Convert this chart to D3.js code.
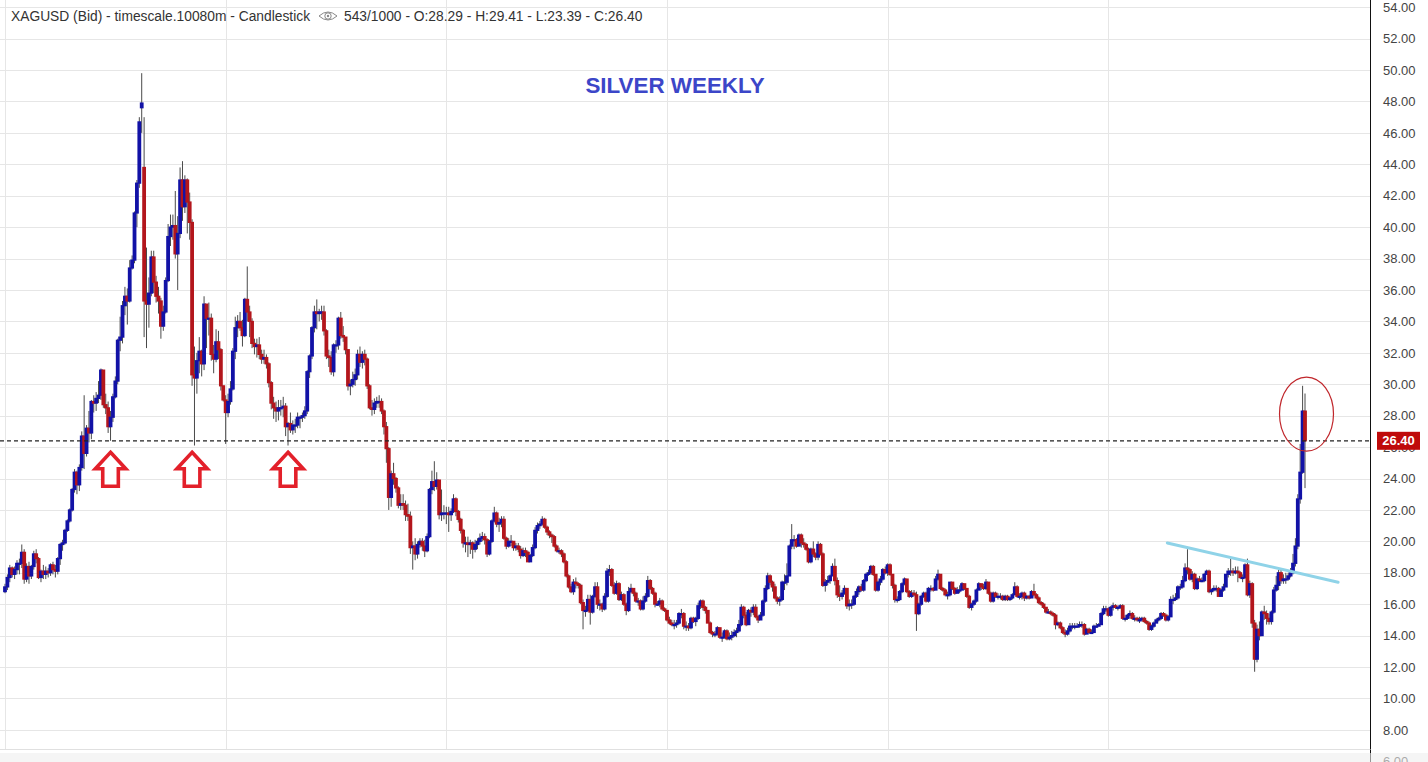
<!DOCTYPE html>
<html><head><meta charset="utf-8">
<script src="https://cdn.jsdelivr.net/npm/d3@7"></script>
<style>
html,body{margin:0;padding:0;background:#fff;overflow:hidden}
svg{display:block;font-family:Arial,"Liberation Sans",sans-serif}
</style></head><body>
<svg id="chart" width="1428" height="762"></svg>
<script>
// ---- weekly XAGUSD candles, Mar 2010 .. Aug 2020 (543 weeks), one line per year ----
const opens = [
16.8,17.1,17.7,18.3,17.9,18.2,18.6,18.6,19.3,17.6,18.4,17.8,18.4,19.2,18.9,17.7,18.1,17.9,18.1,18.0,18.5,18.2,18.1,18.9,19.8,19.9,20.7,21.3,22.0,23.3,24.4,23.6,24.7,26.7,25.6,27.2,26.9,28.9,28.8,29.1,29.3,
30.9,28.7,28.5,27.3,27.9,29.2,30.2,32.8,33.0,35.0,35.6,35.3,37.4,37.9,40.9,42.8,47.6,43.8,35.3,35.1,35.8,38.1,36.5,35.6,35.3,33.7,34.6,36.6,39.4,40.0,40.1,38.3,39.6,43.0,41.3,43.0,41.6,40.3,30.6,30.4,31.5,32.1,31.3,35.1,34.2,34.2,31.9,31.6,32.7,32.2,29.9,29.0,
28.2,28.9,29.7,32.1,33.6,34.0,33.6,33.1,35.4,34.6,34.0,32.6,32.4,32.5,31.9,31.6,31.7,31.3,30.1,28.8,28.5,28.3,28.5,28.5,28.6,27.3,27.5,27.1,27.4,27.4,27.9,27.9,28.0,28.3,30.8,31.8,33.6,34.6,34.5,34.6,34.6,33.4,31.8,31.7,30.8,32.5,32.5,34.2,33.1,33.0,32.2,29.9,
30.0,30.3,30.6,31.9,31.4,31.9,31.6,29.9,28.5,28.4,28.8,28.9,28.9,28.3,27.3,25.9,22.8,24.3,24.0,23.4,22.3,22.4,22.3,21.7,21.6,19.6,19.7,19.2,19.8,20.0,19.7,19.4,20.3,23.3,23.8,23.5,23.9,21.7,21.8,21.8,21.8,21.7,21.9,22.7,21.9,21.4,20.7,19.9,19.9,19.8,19.9,19.5,19.8,
20.0,20.2,20.3,20.1,19.2,20.0,21.3,21.8,21.1,21.2,21.4,20.2,19.7,20.0,20.0,19.6,19.7,19.5,19.1,19.4,19.3,18.7,19.1,19.6,20.7,21.0,21.1,21.4,20.9,20.6,20.4,20.3,19.7,19.4,19.4,19.2,18.7,17.8,17.1,16.8,17.4,17.3,17.2,16.1,15.6,15.6,16.3,15.5,16.5,17.1,16.0,16.0,
15.7,16.5,18.1,18.2,17.2,16.7,17.3,16.3,16.6,16.0,15.6,16.8,17.0,16.7,16.2,16.2,15.7,16.2,16.5,17.5,17.0,16.7,16.0,16.0,16.2,15.7,15.6,15.0,14.8,14.7,14.7,14.8,15.4,15.4,14.6,14.6,14.5,15.1,14.9,15.1,15.9,16.2,15.8,15.6,14.8,14.2,14.1,14.1,14.5,13.9,13.9,14.3,
13.8,13.9,14.0,14.2,14.3,14.7,15.8,15.3,14.7,15.6,15.5,15.8,15.2,15.0,15.3,16.2,17.0,17.8,17.4,17.1,16.4,16.2,16.3,17.4,17.4,17.8,19.7,20.1,20.1,19.7,20.4,19.9,19.8,19.5,18.7,19.5,19.2,19.0,19.8,19.2,17.2,17.4,17.5,17.8,18.4,17.5,16.6,16.5,16.7,17.0,15.9,16.0,
16.0,16.5,16.8,17.1,16.9,17.5,17.9,18.0,18.4,17.9,16.9,17.4,17.6,18.2,18.0,18.5,17.9,17.2,16.3,16.3,16.8,17.3,17.6,16.8,16.5,16.7,16.6,15.4,16.0,16.5,16.7,16.2,17.0,17.0,16.9,17.6,17.9,17.0,16.9,16.6,16.6,17.4,17.0,16.7,16.9,16.9,17.3,17.0,16.5,15.8,16.0,16.2,
16.9,17.3,17.1,17.0,17.4,16.7,16.2,16.7,16.5,16.5,16.5,16.3,16.5,16.3,16.4,16.6,17.1,16.5,16.5,16.7,16.4,16.5,16.4,16.8,16.6,16.4,16.1,16.0,15.8,15.5,15.5,15.4,15.3,14.7,14.8,14.5,14.2,14.1,14.3,14.6,14.6,14.6,14.6,14.7,14.7,14.1,14.4,14.2,14.2,14.6,14.6,14.7,
15.4,15.7,15.7,15.3,15.8,15.9,15.8,15.8,15.9,15.1,15.1,15.3,15.4,15.1,15.1,15.0,15.0,15.1,14.9,14.8,14.4,14.6,14.8,15.0,15.1,15.4,15.3,15.0,15.2,16.3,16.3,16.4,17.1,17.1,17.5,18.3,18.2,17.6,17.9,17.0,17.6,17.5,17.5,17.9,18.1,16.8,16.9,17.0,17.0,16.5,16.9,17.1,
17.9,18.1,18.1,18.0,18.1,18.0,17.7,17.7,18.5,16.6,17.3,14.8,12.5,14.4,14.0,15.5,15.4,15.1,14.9,15.5,16.9,17.2,18.0,17.5,17.6,17.6,17.8,18.0,18.6,19.7,22.7,24.4,28.29
];
const highs = [
17.3,17.9,18.5,18.4,18.4,18.8,18.9,19.8,19.5,18.6,18.7,18.5,19.4,19.5,19.0,18.2,18.5,18.4,18.3,18.6,18.7,18.5,19.0,19.9,20.1,20.8,21.4,22.1,23.4,24.6,24.5,24.9,27.0,29.3,27.4,28.3,29.0,29.3,29.5,30.2,31.0,
30.9,29.4,28.9,28.3,29.4,30.5,32.9,34.3,35.3,36.2,36.1,37.9,38.2,41.0,43.0,47.0,49.8,47.0,38.7,36.8,38.5,38.5,36.9,36.2,35.5,35.0,36.8,40.2,40.8,40.8,42.3,40.7,43.8,44.2,43.3,43.1,42.2,40.5,32.4,32.0,33.0,32.2,35.6,35.1,35.2,34.5,32.5,33.5,33.4,32.3,29.9,29.3,
29.4,30.2,32.3,34.3,34.4,34.6,34.1,35.5,37.5,35.0,34.2,32.9,32.9,33.0,32.2,32.2,31.9,31.4,30.2,29.2,28.9,29.0,29.0,29.2,28.8,27.6,28.2,27.7,27.8,28.2,28.0,28.2,28.6,30.9,31.9,33.7,35.0,35.4,34.8,35.0,35.0,33.5,32.2,32.1,32.6,32.8,34.3,34.6,33.7,33.0,32.2,30.3,
30.8,31.0,32.2,32.4,32.1,32.2,31.7,30.0,29.0,29.1,29.2,29.3,29.1,28.4,27.6,26.0,24.5,25.0,24.1,23.5,23.0,23.0,22.6,22.4,21.9,20.0,20.2,20.0,20.2,20.2,20.1,20.5,23.4,24.5,25.1,24.4,23.9,23.3,22.3,22.2,22.2,22.1,23.0,22.8,22.0,21.5,20.8,20.3,20.3,20.1,20.0,20.1,20.2,
20.5,20.6,20.5,20.2,20.1,21.4,22.2,21.9,21.5,21.6,21.6,20.3,20.2,20.4,20.0,19.9,19.9,19.7,19.6,19.6,19.4,19.2,19.8,20.9,21.2,21.3,21.6,21.5,21.0,20.7,20.5,20.4,19.8,19.6,19.5,19.3,18.8,17.9,17.3,17.6,17.7,17.4,17.3,16.3,15.9,16.6,16.6,16.6,17.4,17.4,16.3,16.1,
16.7,18.3,18.5,18.3,17.4,17.5,17.4,16.8,16.7,16.1,17.1,17.3,17.0,16.8,16.4,16.3,16.5,16.7,17.8,17.6,17.1,16.8,16.2,16.4,16.3,15.8,15.6,15.2,15.0,15.0,15.0,15.5,15.7,15.5,14.9,14.8,15.2,15.2,15.2,16.1,16.3,16.3,15.9,15.6,14.9,14.3,14.3,14.6,14.5,14.2,14.4,14.4,
14.2,14.3,14.4,14.5,15.0,16.0,15.9,15.5,15.7,15.8,16.0,16.0,15.3,15.5,16.3,17.2,18.0,17.9,17.5,17.3,16.5,16.5,17.5,17.9,18.6,19.8,21.1,20.4,20.2,20.5,20.5,20.2,19.9,19.6,19.6,20.0,19.3,20.0,19.9,19.3,17.6,17.8,17.9,18.6,18.9,17.7,17.2,16.9,17.2,17.0,16.3,16.3,
16.6,17.0,17.2,17.3,17.6,18.0,18.2,18.5,18.5,17.9,17.5,17.8,18.3,18.4,18.6,18.6,17.9,17.3,16.5,16.9,17.4,17.7,17.6,16.9,16.9,16.9,16.8,16.1,16.6,16.8,16.8,17.1,17.2,17.1,17.8,18.2,17.9,17.1,17.0,16.8,17.4,17.4,17.1,17.1,17.2,17.4,17.3,17.0,16.6,16.1,16.3,17.0,
17.4,17.3,17.3,17.6,17.4,16.8,16.8,16.8,16.7,16.7,16.6,16.6,16.6,16.5,16.7,17.4,17.2,16.7,16.8,16.8,16.6,16.6,16.9,17.3,16.7,16.5,16.2,16.1,15.8,15.7,15.6,15.5,15.4,14.9,14.9,14.6,14.4,14.5,14.8,14.8,14.8,14.8,14.9,14.9,14.8,14.5,14.5,14.4,14.7,14.8,14.8,15.5,
15.9,15.9,15.8,15.9,16.1,16.0,15.9,16.0,16.0,15.3,15.4,15.6,15.5,15.3,15.2,15.2,15.2,15.2,15.0,14.9,14.7,14.9,15.1,15.2,15.5,15.5,15.4,15.3,16.5,16.6,16.7,17.2,17.3,17.8,18.6,19.5,18.3,18.1,18.0,17.7,17.8,17.7,18.0,18.2,18.2,17.0,17.2,17.2,17.1,17.0,17.3,17.9,
18.3,18.9,18.3,18.4,18.4,18.1,17.9,18.6,18.9,17.5,17.4,15.0,14.7,14.9,15.6,15.9,15.6,15.4,15.6,17.1,17.8,18.2,18.3,17.9,18.0,18.0,18.3,19.2,20.2,23.0,26.2,29.9,29.41
];
const lows = [
16.7,16.9,17.4,17.7,17.6,17.9,17.9,18.3,17.3,17.4,17.3,17.6,18.2,18.6,17.6,17.4,17.6,17.6,17.7,17.8,17.9,17.7,17.9,18.5,19.4,19.8,20.6,21.2,21.9,23.1,23.0,23.2,24.5,24.6,25.4,26.3,26.5,28.2,28.3,28.8,29.0,
28.5,28.1,26.9,26.4,27.6,29.1,30.0,32.1,32.6,34.4,33.8,35.2,37.3,37.7,40.0,42.5,46.0,33.0,32.3,33.6,35.6,35.8,35.2,34.5,32.9,33.4,34.5,36.5,38.8,39.2,38.0,36.0,39.3,40.4,40.9,39.6,39.2,29.9,26.1,29.4,30.7,30.5,30.9,32.3,33.1,31.5,30.7,31.4,31.6,29.6,28.9,26.2,
27.9,28.7,29.6,31.6,33.0,33.4,32.4,33.0,34.0,33.0,32.3,31.9,31.7,31.6,31.3,31.3,31.0,29.8,28.4,27.8,27.6,27.7,28.0,27.9,26.7,26.1,26.9,26.8,26.9,27.2,27.2,27.6,27.8,28.1,30.4,31.6,33.3,33.5,34.0,34.1,33.1,31.6,31.1,30.6,30.5,32.0,32.2,32.9,32.7,31.9,29.6,29.3,
29.8,29.9,30.3,31.1,31.0,31.2,29.7,28.4,28.0,28.1,28.5,28.5,28.1,26.8,25.0,22.0,22.2,23.6,23.1,22.1,22.0,22.0,21.3,21.3,19.2,18.2,18.8,18.9,19.6,19.4,19.0,19.3,20.2,23.0,23.2,23.3,21.4,21.3,21.4,21.1,20.6,21.3,21.8,21.6,21.2,20.5,19.6,19.3,19.0,19.2,18.9,19.3,19.5,
19.8,20.0,19.8,19.0,19.1,19.9,21.2,20.9,20.6,20.9,20.1,19.5,19.6,19.7,19.4,19.4,19.3,18.9,19.0,19.0,18.7,18.7,19.0,19.5,20.5,20.8,21.0,20.8,20.4,20.2,19.9,19.6,19.3,19.2,19.0,18.6,17.7,17.0,16.7,16.6,17.0,17.0,16.0,14.4,15.2,15.5,14.7,15.4,16.4,15.7,15.6,15.5,
15.6,16.4,17.8,17.1,16.6,16.6,16.2,16.2,15.9,15.3,15.5,16.7,16.5,16.1,15.9,15.6,15.6,16.1,16.4,16.9,16.6,15.8,15.9,15.8,15.6,15.5,14.9,14.7,14.6,14.4,14.5,14.7,15.1,14.4,14.3,14.3,14.4,14.8,14.6,15.0,15.7,15.6,15.4,14.8,14.1,13.9,13.9,14.0,13.8,13.6,13.8,13.7,
13.7,13.7,13.9,13.9,14.2,14.6,15.1,14.6,14.7,15.2,15.3,15.1,14.8,15.0,15.2,16.1,16.9,17.2,16.8,16.3,16.0,15.9,16.2,16.9,17.2,17.8,19.5,19.5,19.6,19.7,19.6,19.6,19.4,18.6,18.6,19.0,18.8,18.8,19.1,17.1,16.8,17.2,17.3,17.8,17.2,16.4,16.2,16.3,16.6,15.7,15.6,15.7,
15.9,16.4,16.6,16.8,16.8,17.4,17.8,17.9,17.8,16.8,16.8,17.2,17.5,17.9,17.8,17.8,17.0,16.1,16.1,16.2,16.7,17.2,16.7,16.4,16.4,16.5,14.3,15.3,15.9,16.4,16.1,16.1,16.8,16.8,16.9,17.5,16.9,16.8,16.5,16.3,16.5,16.9,16.6,16.7,16.7,16.9,16.9,16.4,15.7,15.6,15.9,16.1,
16.9,16.9,16.9,16.9,16.6,16.1,16.1,16.4,16.3,16.3,16.2,16.2,16.2,16.2,16.3,16.6,16.4,16.3,16.3,16.2,16.3,16.3,16.4,16.5,16.3,16.0,15.9,15.7,15.4,15.4,15.3,15.2,14.4,14.6,14.4,14.1,13.9,14.0,14.2,14.4,14.4,14.5,14.5,14.5,14.0,14.1,14.1,14.1,14.2,14.5,14.6,14.7,
15.3,15.5,15.2,15.2,15.6,15.7,15.6,15.7,15.0,14.9,15.0,15.1,15.0,14.9,14.9,14.8,14.9,14.8,14.7,14.3,14.3,14.5,14.8,14.9,15.0,15.2,14.9,14.9,15.2,16.0,16.2,16.3,16.9,17.0,17.4,17.9,17.5,17.4,16.9,16.9,17.4,17.4,17.4,17.9,16.7,16.6,16.8,16.8,16.5,16.5,16.8,17.1,
17.7,17.8,17.8,17.9,17.4,17.6,17.4,17.6,16.5,16.4,14.5,11.7,12.3,13.7,14.0,15.0,14.7,14.7,14.7,15.4,16.8,16.9,17.3,17.3,17.3,17.5,17.7,17.9,18.4,19.5,22.4,24.3,23.39
];
const closes = [
17.1,17.7,18.3,17.9,18.2,18.6,18.6,19.3,17.6,18.4,17.8,18.4,19.2,18.9,17.7,18.1,17.9,18.1,18.0,18.5,18.2,18.1,18.9,19.8,19.9,20.7,21.3,22.0,23.3,24.4,23.6,24.7,26.7,25.6,27.2,26.9,28.9,28.8,29.1,29.3,30.9,
28.7,28.5,27.3,27.9,29.2,30.2,32.8,33.0,35.0,35.6,35.3,37.4,37.9,40.9,42.8,46.7,47.9,35.3,35.1,35.8,38.1,36.5,35.6,35.3,33.7,34.6,36.6,39.4,40.0,40.1,38.3,39.6,43.0,41.3,43.0,41.6,40.3,30.6,30.4,31.5,32.1,31.3,35.1,34.2,34.2,31.9,31.6,32.7,32.2,29.9,29.0,28.2,
28.9,29.7,32.1,33.6,34.0,33.6,33.1,35.4,34.6,34.0,32.6,32.4,32.5,31.9,31.6,31.7,31.3,30.1,28.8,28.5,28.3,28.5,28.5,28.6,27.3,27.5,27.1,27.4,27.4,27.9,27.9,28.0,28.3,30.8,31.8,33.6,34.6,34.5,34.6,34.6,33.4,31.8,31.7,30.8,32.5,32.5,34.2,33.1,33.0,32.2,29.9,30.0,
30.3,30.6,31.9,31.4,31.9,31.6,29.9,28.5,28.4,28.8,28.9,28.9,28.3,27.3,25.9,22.8,24.3,24.0,23.4,22.3,22.4,22.3,21.7,21.6,19.6,19.7,19.2,19.8,20.0,19.7,19.4,20.3,23.3,23.8,23.5,23.9,21.7,21.8,21.8,21.8,21.7,21.9,22.7,21.9,21.4,20.7,19.9,19.9,19.8,19.9,19.5,19.8,20.0,
20.2,20.3,20.1,19.2,20.0,21.3,21.8,21.1,21.2,21.4,20.2,19.7,20.0,20.0,19.6,19.7,19.5,19.1,19.4,19.3,18.7,19.1,19.6,20.7,21.0,21.1,21.4,20.9,20.6,20.4,20.3,19.7,19.4,19.4,19.2,18.7,17.8,17.1,16.8,17.4,17.3,17.2,16.1,15.6,15.6,16.3,15.5,16.5,17.1,16.0,16.0,15.7,
16.5,18.1,18.2,17.2,16.7,17.3,16.3,16.6,16.0,15.6,16.8,17.0,16.7,16.2,16.2,15.7,16.2,16.5,17.5,17.0,16.7,16.0,16.0,16.2,15.7,15.6,15.0,14.8,14.7,14.7,14.8,15.4,15.4,14.6,14.6,14.5,15.1,14.9,15.1,15.9,16.2,15.8,15.6,14.8,14.2,14.1,14.1,14.5,13.9,13.9,14.3,13.8,
13.9,14.0,14.2,14.3,14.7,15.8,15.3,14.7,15.6,15.5,15.8,15.2,15.0,15.3,16.2,17.0,17.8,17.4,17.1,16.4,16.2,16.3,17.4,17.4,17.8,19.7,20.1,20.1,19.7,20.4,19.9,19.8,19.5,18.7,19.5,19.2,19.0,19.8,19.2,17.2,17.4,17.5,17.8,18.4,17.5,16.6,16.5,16.7,17.0,15.9,16.0,16.0,
16.5,16.8,17.1,16.9,17.5,17.9,18.0,18.4,17.9,16.9,17.4,17.6,18.2,18.0,18.5,17.9,17.2,16.3,16.3,16.8,17.3,17.6,16.8,16.5,16.7,16.6,15.4,16.0,16.5,16.7,16.2,17.0,17.0,16.9,17.6,17.9,17.0,16.9,16.6,16.6,17.4,17.0,16.7,16.9,16.9,17.3,17.0,16.5,15.8,16.0,16.2,16.9,
17.3,17.1,17.0,17.4,16.7,16.2,16.7,16.5,16.5,16.5,16.3,16.5,16.3,16.4,16.6,17.1,16.5,16.5,16.7,16.4,16.5,16.4,16.8,16.6,16.4,16.1,16.0,15.8,15.5,15.5,15.4,15.3,14.7,14.8,14.5,14.2,14.1,14.3,14.6,14.6,14.6,14.6,14.7,14.7,14.1,14.4,14.2,14.2,14.6,14.6,14.7,15.4,
15.7,15.7,15.3,15.8,15.9,15.8,15.8,15.9,15.1,15.1,15.3,15.4,15.1,15.1,15.0,15.0,15.1,14.9,14.8,14.4,14.6,14.8,15.0,15.1,15.4,15.3,15.0,15.2,16.3,16.3,16.4,17.1,17.1,17.5,18.3,18.2,17.6,17.9,17.0,17.6,17.5,17.5,17.9,18.1,16.8,16.9,17.0,17.0,16.5,16.9,17.1,17.9,
18.1,18.1,18.0,18.1,18.0,17.7,17.7,18.5,16.6,17.3,14.8,12.5,14.4,14.0,15.5,15.4,15.1,14.9,15.5,16.9,17.2,18.0,17.5,17.6,17.6,17.8,18.0,18.6,19.7,22.7,24.4,28.29,26.40
];

// axis ticks and annotations
const yTicks = [6,8,10,12,14,16,18,20,22,24,26,28,30,32,34,36,38,40,42,44,46,48,50,52,54];
const xGridIdx = [0, 92, 184, 276, 368, 460];
const lastPrice = 26.40;
const supportArrowIdx = [44, 78, 118];
const trendIdx = [484.6, 555.8];
const trendVals = [19.9, 17.4];
const circleIdx = 542, circleVal = 28.1;
const headerLeft = "XAGUSD (Bid) - timescale.10080m - Candlestick";
const headerRight = "543/1000 - O:28.29 - H:29.41 - L:23.39 - C:26.40";
const title = "SILVER WEEKLY";

const W = 1428, H = 762, axisX = 1370.5, plotBottom = 749;
const svg = d3.select("#chart");
const x = d3.scaleLinear().domain([0, closes.length - 1]).range([5, 1305]);
const y = d3.scaleLinear().domain([6, 54]).range([761.3, 7.2]);

svg.append("rect").attr("width", W).attr("height", H).attr("fill", "#fff");

svg.append("clipPath").attr("id", "plot").append("rect")
  .attr("x", 0).attr("y", 0).attr("width", axisX).attr("height", plotBottom);

const grid = svg.append("g").attr("clip-path", "url(#plot)");
grid.selectAll("line.h").data(yTicks).join("line").attr("class", "h")
  .attr("x1", 0).attr("x2", axisX)
  .attr("y1", d => Math.round(y(d)) + 0.5).attr("y2", d => Math.round(y(d)) + 0.5)
  .attr("stroke", "#e6e6e6").attr("stroke-width", 1);
grid.selectAll("line.v").data(xGridIdx).join("line").attr("class", "v")
  .attr("x1", d => Math.round(x(d)) + 0.5).attr("x2", d => Math.round(x(d)) + 0.5)
  .attr("y1", 0).attr("y2", plotBottom)
  .attr("stroke", "#e6e6e6").attr("stroke-width", 1);

// candles: wicks first, then bodies
const idx = d3.range(closes.length);
const plot = svg.append("g").attr("clip-path", "url(#plot)");
plot.append("g").selectAll("line").data(idx).join("line")
  .attr("x1", i => x(i)).attr("x2", i => x(i))
  .attr("y1", i => y(Math.max(highs[i], opens[i], closes[i])))
  .attr("y2", i => y(Math.min(lows[i], opens[i], closes[i])))
  .attr("stroke", "#4a4a4a").attr("stroke-width", 1);
const bw = 3.8;
plot.append("g").selectAll("rect").data(idx).join("rect")
  .attr("x", i => x(i) - bw / 2)
  .attr("width", bw)
  .attr("y", i => y(Math.max(opens[i], closes[i])) - 0.6)
  .attr("height", i => Math.max(2.2, Math.abs(y(opens[i]) - y(closes[i])) + 1.2))
  .attr("fill", i => closes[i] >= opens[i] ? "#1212a6" : "#b3161c");

// last price dashed line
svg.append("line").attr("x1", 0).attr("x2", axisX)
  .attr("y1", y(lastPrice)).attr("y2", y(lastPrice))
  .attr("stroke", "#222").attr("stroke-width", 1.2).attr("stroke-dasharray", "4,3");

// trend line
svg.append("line")
  .attr("x1", x(trendIdx[0])).attr("y1", y(trendVals[0]))
  .attr("x2", x(trendIdx[1])).attr("y2", y(trendVals[1]))
  .attr("stroke", "#8fd3e8").attr("stroke-width", 3).attr("stroke-linecap", "round");

// circle around last candles
svg.append("ellipse").attr("cx", x(circleIdx) + 1.5).attr("cy", y(circleVal))
  .attr("rx", 27).attr("ry", 37).attr("fill", "none")
  .attr("stroke", "#c0262b").attr("stroke-width", 1.2);

// support arrows
const arrowPath = "M0,0 L15.2,16.5 L7.8,16.5 L7.8,34 L-7.8,34 L-7.8,16.5 L-15.2,16.5 Z";
svg.append("g").selectAll("path").data(supportArrowIdx).join("path")
  .attr("d", arrowPath)
  .attr("transform", i => `translate(${x(i)},${y(lastPrice) + 11.5})`)
  .attr("fill", "#fff").attr("stroke", "#e3202a").attr("stroke-width", 3.6)
  .attr("stroke-linejoin", "miter");

// right axis
svg.append("rect").attr("x", axisX).attr("y", 0).attr("width", W - axisX).attr("height", H).attr("fill", "#fff");
svg.append("line").attr("x1", axisX).attr("x2", axisX).attr("y1", 0).attr("y2", H)
  .attr("stroke", "#111").attr("stroke-width", 1);
svg.append("g").selectAll("text").data(yTicks).join("text")
  .attr("x", 1383).attr("y", d => y(d)).attr("dy", "0.36em")
  .attr("font-size", 13).attr("fill", "#444")
  .text(d => d.toFixed(2));

// last price tag
svg.append("rect").attr("x", 1377).attr("y", y(lastPrice) - 9).attr("width", 43).attr("height", 18)
  .attr("fill", "#bf0a0a");
svg.append("text").attr("x", 1398.5).attr("y", y(lastPrice)).attr("dy", "0.36em")
  .attr("text-anchor", "middle").attr("font-size", 13).attr("font-weight", "bold")
  .attr("fill", "#fff").text(lastPrice.toFixed(2));

// bottom shaded edge of the frame
svg.append("rect").attr("x", 0).attr("y", 753).attr("width", W).attr("height", H - 753)
  .attr("fill", "#eeeeee").attr("opacity", 0.6);
svg.append("line").attr("x1", 0).attr("x2", axisX).attr("y1", plotBottom + 0.5).attr("y2", plotBottom + 0.5)
  .attr("stroke", "#e0e0e0");

// header
svg.append("text").attr("x", 11).attr("y", 21).attr("font-size", 13.8).attr("fill", "#333").text(headerLeft);
const eye = svg.append("g").attr("transform", "translate(328,16)");
eye.append("path").attr("d", "M-9,0 Q0,-8 9,0 Q0,8 -9,0 Z").attr("fill", "none").attr("stroke", "#888").attr("stroke-width", 1);
eye.append("circle").attr("r", 3.2).attr("fill", "none").attr("stroke", "#888").attr("stroke-width", 1);
eye.append("circle").attr("r", 1.2).attr("fill", "#888");
svg.append("text").attr("x", 344).attr("y", 21).attr("font-size", 13.8).attr("fill", "#333").text(headerRight);

// title
svg.append("text").attr("x", 675).attr("y", 93).attr("text-anchor", "middle")
  .attr("font-size", 22.4).attr("font-weight", "bold").attr("fill", "#3c46c8").text(title);
</script>
</body></html>
